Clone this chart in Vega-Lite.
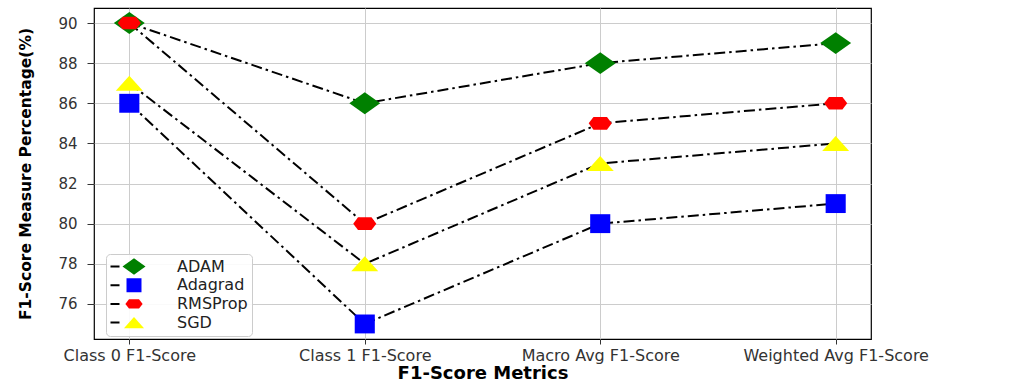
{
  "$schema": "https://vega.github.io/schema/vega-lite/v6.json",
  "width": 777,
  "height": 331,
  "autosize": {"type": "none"},
  "padding": {"left": 94, "top": 8, "right": 141, "bottom": 46},
  "background": "white",
  "config": {
    "font": "DejaVu Sans",
    "view": {"stroke": "#000000", "strokeWidth": 1.2},
    "axis": {
      "gridColor": "#cccccc",
      "gridWidth": 1,
      "domain": false,
      "tickColor": "#333333",
      "labelColor": "#333333",
      "titleColor": "#000000",
      "labelFont": "DejaVu Sans",
      "titleFont": "DejaVu Sans"
    }
  },
  "data": {
    "values": [
      {"optimizer": "ADAM", "metric": "Class 0 F1-Score", "score": 90},
      {"optimizer": "ADAM", "metric": "Class 1 F1-Score", "score": 86},
      {"optimizer": "ADAM", "metric": "Macro Avg F1-Score", "score": 88},
      {"optimizer": "ADAM", "metric": "Weighted Avg F1-Score", "score": 89},
      {"optimizer": "Adagrad", "metric": "Class 0 F1-Score", "score": 86},
      {"optimizer": "Adagrad", "metric": "Class 1 F1-Score", "score": 75},
      {"optimizer": "Adagrad", "metric": "Macro Avg F1-Score", "score": 80},
      {"optimizer": "Adagrad", "metric": "Weighted Avg F1-Score", "score": 81},
      {"optimizer": "RMSProp", "metric": "Class 0 F1-Score", "score": 90},
      {"optimizer": "RMSProp", "metric": "Class 1 F1-Score", "score": 80},
      {"optimizer": "RMSProp", "metric": "Macro Avg F1-Score", "score": 85},
      {"optimizer": "RMSProp", "metric": "Weighted Avg F1-Score", "score": 86},
      {"optimizer": "SGD", "metric": "Class 0 F1-Score", "score": 87},
      {"optimizer": "SGD", "metric": "Class 1 F1-Score", "score": 78},
      {"optimizer": "SGD", "metric": "Macro Avg F1-Score", "score": 83},
      {"optimizer": "SGD", "metric": "Weighted Avg F1-Score", "score": 84}
    ]
  },
  "encoding": {
    "x": {
      "field": "metric",
      "type": "ordinal",
      "sort": ["Class 0 F1-Score", "Class 1 F1-Score", "Macro Avg F1-Score", "Weighted Avg F1-Score"],
      "scale": {"type": "point", "padding": 0.15},
      "axis": {
        "title": "F1-Score Metrics",
        "labelAngle": 0,
        "labelFontSize": 16,
        "labelLimit": 0,
        "titleFontSize": 18,
        "titleFontWeight": "bold",
        "tickSize": 5,
        "labelPadding": 3,
        "titlePadding": 1,
        "grid": true
      }
    },
    "y": {
      "field": "score",
      "type": "quantitative",
      "scale": {"domain": [74.25, 90.75], "nice": false, "zero": false},
      "axis": {
        "title": "F1-Score Measure Percentage(%)",
        "values": [76, 78, 80, 82, 84, 86, 88, 90],
        "labelFontSize": 15,
        "titleFontSize": 15.5,
        "titleFontWeight": "bold",
        "tickSize": 7,
        "labelPadding": 10,
        "titlePadding": 24
      }
    }
  },
  "layer": [
    {
      "mark": {"type": "line", "strokeWidth": 2, "strokeDash": [11, 4, 2.5, 4]},
      "encoding": {
        "stroke": {
          "field": "optimizer",
          "type": "nominal",
          "scale": {"range": ["black", "black", "black", "black"]},
          "legend": {
            "orient": "none",
            "legendX": 12,
            "legendY": 246,
            "title": null,
            "padding": 4,
            "symbolType": "M-4,0H-2.2M2.6,0H3.1",
            "symbolSize": 100,
            "symbolStrokeWidth": 2,
            "symbolDash": [],
            "symbolFillColor": "transparent",
            "symbolOffset": 13,
            "clipHeight": 17,
            "rowPadding": 1.7,
            "labelExpr": "''",
            "labelFontSize": 15,
            "zindex": 2
          }
        }
      }
    },
    {
      "mark": {"type": "point", "filled": true, "size": 900, "opacity": 1},
      "encoding": {
        "shape": {
          "field": "optimizer",
          "type": "nominal",
          "scale": {
            "domain": ["ADAM", "Adagrad", "RMSProp", "SGD"],
            "range": [
              "M-1.03,0L0,-0.73L1.03,0L0,0.73Z",
              "M-0.67,-0.63H0.67V0.63H-0.67Z",
              "M-0.77,0L-0.45,-0.42H0.45L0.77,0L0.45,0.42H-0.45Z",
              "M0,-0.5L0.9,0.5L-0.9,0.5Z"
            ]
          },
          "legend": {
            "orient": "none",
            "legendX": 12,
            "legendY": 246,
            "title": null,
            "padding": 4,
            "fillColor": "rgba(255,255,255,0.9)",
            "strokeColor": "#cccccc",
            "cornerRadius": 4,
            "symbolSize": 500,
            "symbolOffset": 12,
            "clipHeight": 17,
            "rowPadding": 1.7,
            "labelOffset": 31,
            "labelFontSize": 16,
            "labelColor": "#222222",
            "zindex": 1
          }
        },
        "color": {
          "field": "optimizer",
          "type": "nominal",
          "scale": {
            "domain": ["ADAM", "Adagrad", "RMSProp", "SGD"],
            "range": ["#008000", "#0000ff", "#ff0000", "#ffff00"]
          }
        }
      }
    }
  ]
}
